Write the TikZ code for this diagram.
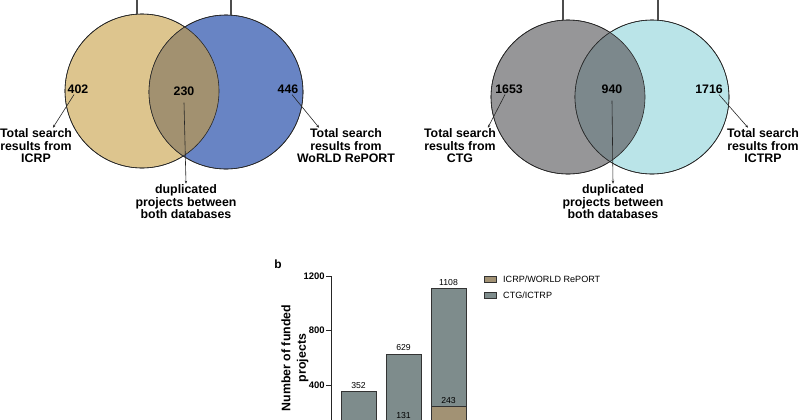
\documentclass[tikz,border=0pt]{standalone}
\usepackage{fontspec}
\setmainfont{Liberation Sans}
\usetikzlibrary{calc,positioning,arrows.meta}
\definecolor{icrp}{RGB}{221,197,142}
\definecolor{world}{RGB}{104,132,196}
\definecolor{dupA}{RGB}{162,145,112}
\definecolor{ctg}{RGB}{150,150,152}
\definecolor{ictrp}{RGB}{186,228,232}
\definecolor{dupB}{RGB}{124,136,140}
\definecolor{bargray}{RGB}{126,140,140}
\definecolor{bartan}{RGB}{162,146,116}
\tikzset{%
  venn/.style = { circle, draw=black!85, line width=0.6pt, minimum size=154bp, inner sep=0pt },
  count/.style = { font=\fontsize{12.4}{13}\selectfont\bfseries, inner sep=1pt },
  note/.style = { font=\fontsize{12.4}{12.6}\selectfont\bfseries, align=center, inner sep=1pt },
  pointer/.style = { draw=black!85, line width=0.6pt, -{Stealth[length=3pt,width=2.5pt]} },
  stem/.style = { draw=black!70, line width=1.3pt },
  ticklabel/.style = { font=\fontsize{9.5}{10}\selectfont\bfseries, anchor=east, inner sep=1pt },
  barval/.style = { font=\fontsize{8.7}{9}\selectfont, anchor=south, inner sep=1pt },
  legend/.style = { font=\fontsize{9.1}{10}\selectfont, anchor=west, inner sep=0pt },
  bar/.style = { draw=black!80, line width=0.5pt }
}

\begin{document}
\begin{tikzpicture}[x=1bp,y=-1bp]
  \useasboundingbox (0,0) rectangle (800,419);
  \clip (0,0) rectangle (800,419);

  % Venn ICRP / WoRLD RePORT
  \node[venn,fill=icrp] (icrp) at (142,91) {};
  \node[venn,fill=world] (world) at (226,92) {};
  \begin{scope}
    \clip (142,91) circle (77);
    \fill[dupA] (226,92) circle (77);
  \end{scope}
  \draw[draw=black!85,line width=0.6pt] (142,91) circle (77);
  \draw[draw=black!85,line width=0.6pt] (226,92) circle (77);

  \coordinate (topA) at (137,0);
  \coordinate (topB) at (231,0);
  \draw[stem] (topA) -- (icrp.north -| topA);
  \draw[stem] (topB) -- (world.north -| topB);

  \node[count] (n402) at (78,89) {402};
  \node[count] (n230) at (184,91) {230};
  \node[count] (n446) at (288,89) {446};

  \node[note] (tICRP) at (36,146) {Total search\\results from\\ICRP};
  \node[note] (dupAtxt) at (186,202) {duplicated\\projects between\\both databases};
  \node[note] (tWORLD) at (346,146) {Total search\\results from\\WoRLD RePORT};

  \draw[pointer] ([xshift=-4pt]n402.south) -- ([xshift=17pt]tICRP.north);
  \draw[pointer] ([yshift=-6pt]n230.south) -- (dupAtxt.north);
  \draw[pointer] ([xshift=4pt]n446.south) -- ([xshift=-27pt]tWORLD.north);

  % Venn CTG / ICTRP
  \node[venn,fill=ctg] (ctg) at (568,97) {};
  \node[venn,fill=ictrp] (ictrp) at (652,97) {};
  \begin{scope}
    \clip (568,97) circle (77);
    \fill[dupB] (652,97) circle (77);
  \end{scope}
  \draw[draw=black!85,line width=0.6pt] (568,97) circle (77);
  \draw[draw=black!85,line width=0.6pt] (652,97) circle (77);

  \coordinate (topC) at (563,0);
  \coordinate (topD) at (658,0);
  \draw[stem] (topC) -- (ctg.north -| topC);
  \draw[stem] (topD) -- (ictrp.north -| topD);

  \node[count] (n1653) at (509,89) {1653};
  \node[count] (n940) at (612,89) {940};
  \node[count] (n1716) at (709,89) {1716};

  \node[note] (tCTG) at (460,146) {Total search\\results from\\CTG};
  \node[note] (dupBtxt) at (613,202) {duplicated\\projects between\\both databases};
  \node[note] (tICTRP) at (763,146) {Total search\\results from\\ICTRP};

  \draw[pointer] ([xshift=-4pt]n1653.south) -- ([xshift=28pt]tCTG.north);
  \draw[pointer] ([yshift=-6pt]n940.south) -- (dupBtxt.north);
  \draw[pointer] ([xshift=10pt]n1716.south) -- ([xshift=-15pt]tICTRP.north);

  % Bar chart
  \node[font=\fontsize{12}{12}\selectfont\bfseries] (blabel) at (278,264) {b};

  \def\yval#1{439.5-0.13625*#1}
  \coordinate (axtop) at (331,{\yval{1200}});
  \coordinate (axbot) at (331,{\yval{0}});
  \draw[draw=black!85,line width=0.8pt] (axtop) -- (axbot);
  \foreach \v in {400,800,1200} {
    \draw[draw=black!85,line width=0.8pt] (331,{\yval{\v}}) -- (326,{\yval{\v}}) node[ticklabel] {\v};
  }
  \node[rotate=90,font=\fontsize{12.4}{15.5}\selectfont\bfseries,align=center] (ylab) at (295,358) {Number of funded\\projects};

  % bars: x-left, tan part, total
  \draw[bar,fill=bargray] (341,{\yval{0}}) rectangle (376,{\yval{352}});
  \node[barval] at (358.5,{\yval{352}-2}) {352};
  \foreach \xl/\lo/\hi in {386/131/629,431/243/1108} {
    \draw[bar,fill=bartan] (\xl,{\yval{0}}) rectangle (\xl+35,{\yval{\lo}});
    \draw[bar,fill=bargray] (\xl,{\yval{\lo}}) rectangle (\xl+35,{\yval{\hi}});
    \node[barval] at (\xl+17.5,{\yval{\hi}-2}) {\hi};
    \node[barval] at (\xl+17.5,{\yval{\lo}-2}) {\lo};
  }

  % legend
  \draw[bar,fill=bartan] (484,276.5) rectangle (496,282.5);
  \node[legend] (legA) at (503,279.5) {ICRP/WORLD RePORT};
  \draw[bar,fill=bargray] (484,292) rectangle (496,298);
  \node[legend] (legB) at (503,295) {CTG/ICTRP};
\end{tikzpicture}
\end{document}
